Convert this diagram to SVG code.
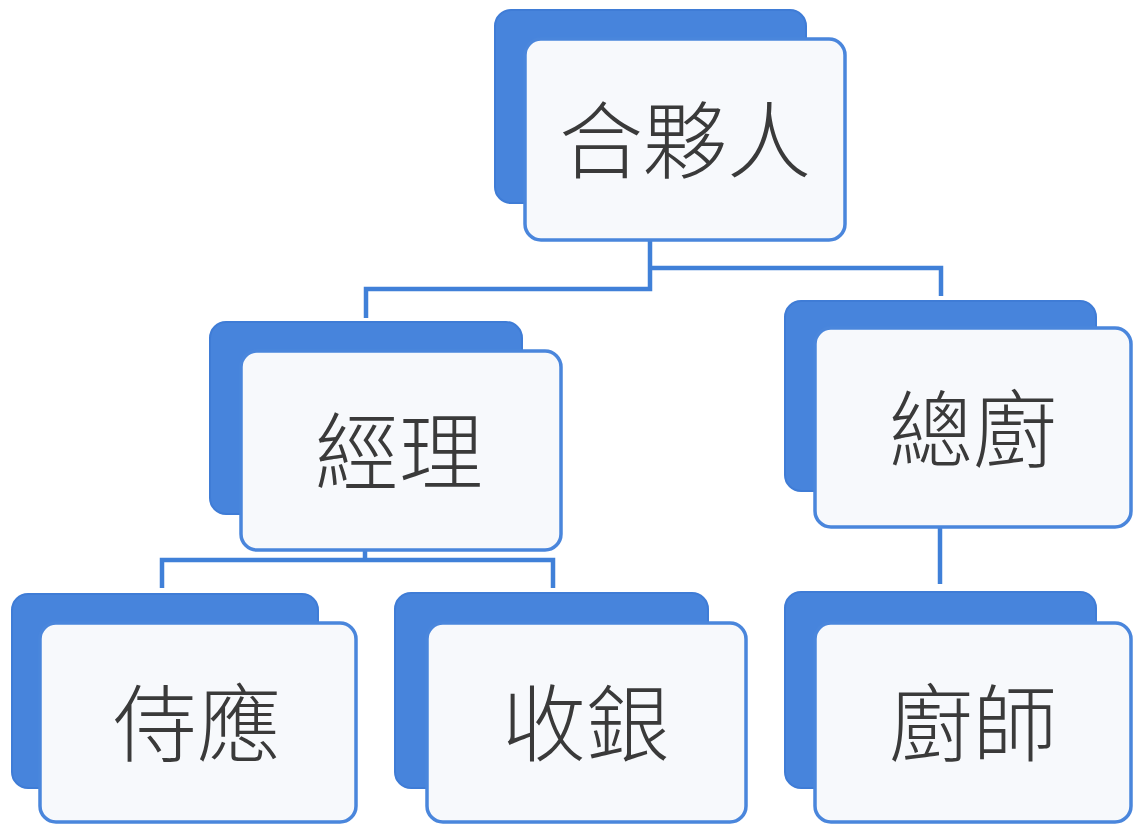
<svg xmlns="http://www.w3.org/2000/svg" width="1133" height="826" viewBox="0 0 1133 826">
<style>
.back{fill:#4784dc;stroke:#3f7cd6;stroke-width:2}
.front{fill:#f7f9fc;stroke:#4a86dc;stroke-width:3.5}
.lbl{font-family:"Noto Sans CJK TC","Noto Sans CJK SC",sans-serif;font-size:84px;font-weight:300;fill:#3a3a3a;text-anchor:middle;dominant-baseline:central}
.conn{fill:none;stroke:#4080d8;stroke-width:4.5}
</style>
<rect width="1133" height="826" fill="#ffffff"/>
<g id="connectors">
<polyline class="conn" points="650,240 650,289 366,289 366,318"/>
<polyline class="conn" points="650,268 941,268 941,296"/>
<polyline class="conn" points="365,550 365,560"/>
<polyline class="conn" points="162,588 162,560 553,560 553,588"/>
<polyline class="conn" points="940,527 940,584"/>
</g>
<g id="n-partner">
<rect class="back" x="495" y="10" width="311" height="193" rx="16"/>
<rect class="front" x="525" y="39" width="320" height="201" rx="16"/>
<text class="lbl" x="685" y="135">合夥人</text>
</g>
<g id="n-manager">
<rect class="back" x="210" y="322" width="312" height="192" rx="16"/>
<rect class="front" x="241" y="351" width="320" height="199" rx="16"/>
<text class="lbl" x="399" y="446">經理</text>
</g>
<g id="n-headchef">
<rect class="back" x="785" y="301" width="311" height="190" rx="16"/>
<rect class="front" x="815" y="328" width="316" height="199" rx="16"/>
<text class="lbl" x="973" y="424">總廚</text>
</g>
<g id="n-waiter">
<rect class="back" x="12" y="594" width="306" height="194" rx="16"/>
<rect class="front" x="40" y="623" width="316" height="199" rx="16"/>
<text class="lbl" x="197" y="718">侍應</text>
</g>
<g id="n-cashier">
<rect class="back" x="395" y="593" width="313" height="195" rx="16"/>
<rect class="front" x="427" y="623" width="319" height="199" rx="16"/>
<text class="lbl" x="586" y="718">收銀</text>
</g>
<g id="n-chef">
<rect class="back" x="785" y="592" width="311" height="196" rx="16"/>
<rect class="front" x="815" y="623" width="316" height="199" rx="16"/>
<text class="lbl" x="973" y="718">廚師</text>
</g>
</svg>
